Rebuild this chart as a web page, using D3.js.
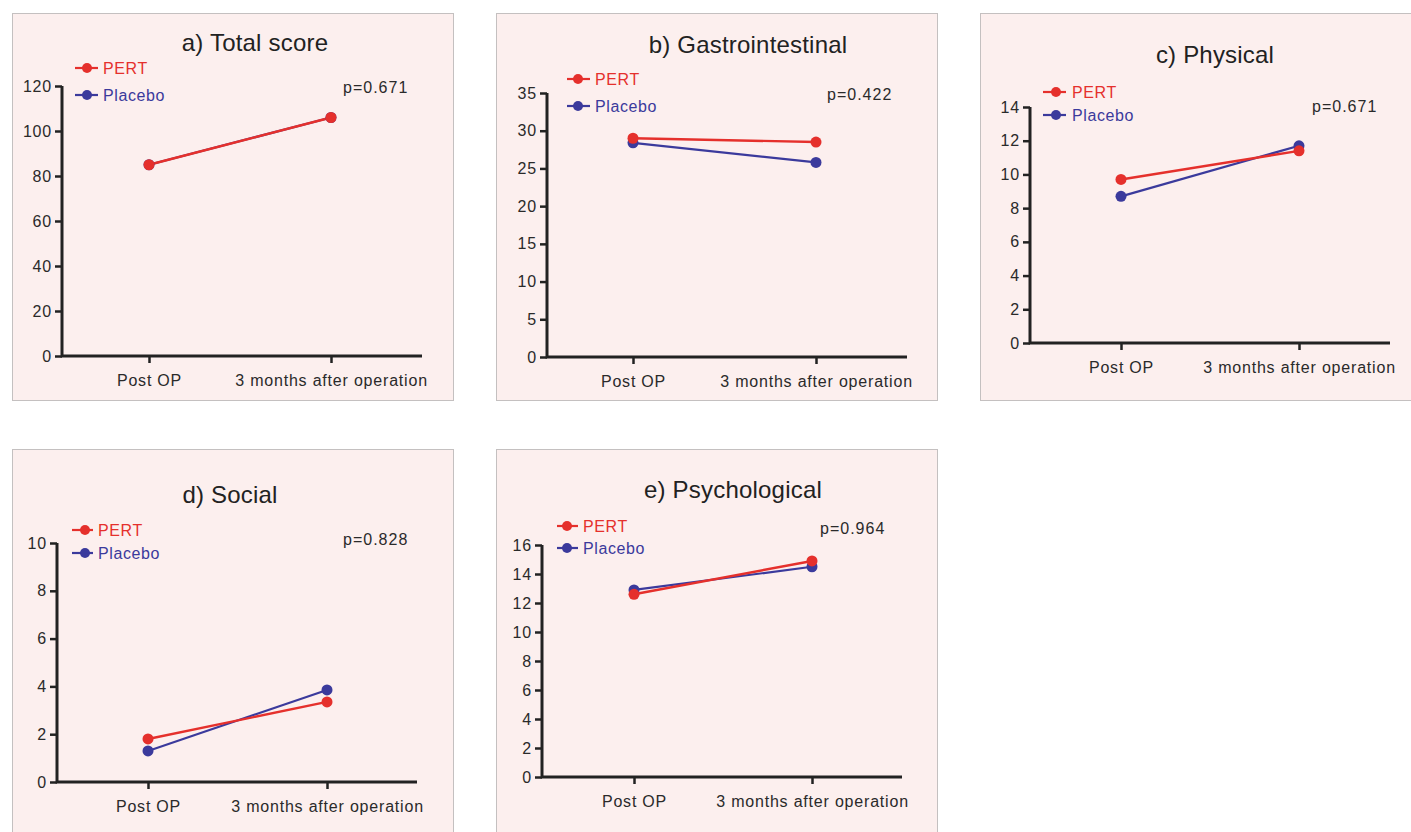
<!DOCTYPE html>
<html><head><meta charset="utf-8">
<script src="https://cdn.jsdelivr.net/npm/d3@7"></script>
<style>
html,body{margin:0;padding:0;background:#fff;}
svg{display:block;font-family:"Liberation Sans",Arial,Helvetica,sans-serif;}
</style></head>
<body>
<svg id="chart" width="1411" height="832"></svg>
<script>
// ---- data ----
const categories = ["Post OP", "3 months after operation"];
const seriesNames = ["PERT", "Placebo"];
const panelTitles = ["a) Total score", "b) Gastrointestinal", "c) Physical", "d) Social", "e) Psychological"];
const pValues = ["p=0.671", "p=0.422", "p=0.671", "p=0.828", "p=0.964"];
const pertValues = [[85, 106], [29.0, 28.5], [9.7, 11.4], [1.8, 3.35], [12.6, 14.9]];
const placeboValues = [[85, 106], [28.4, 25.8], [8.7, 11.7], [1.3, 3.85], [12.9, 14.5]];
const yMax = [120, 35, 14, 10, 16];
const yStep = [20, 5, 2, 2, 2];

// ---- layout (pixels) ----
const layout = [
  {bx:12, by:13, bw:441, bh:387, axX:62, y0:356, yTop:86, xEnd:422, x1:149, x2:331, tx:255, ty:51, lx1:75, lx2:98, lc:87, ltx:103, ly1:68, ly2:95, px:343, py:87},
  {bx:496, by:13, bw:441, bh:387, axX:547, y0:357, yTop:93, xEnd:907, x1:633, x2:816, tx:748, ty:53, lx1:567, lx2:590, lc:578, ltx:595, ly1:79, ly2:106, px:827, py:94},
  {bx:980, by:13, bw:440, bh:387, axX:1030, y0:343, yTop:107, xEnd:1390, x1:1121, x2:1299, tx:1215, ty:63, lx1:1043, lx2:1066, lc:1056, ltx:1072, ly1:92, ly2:115, px:1312, py:106},
  {bx:12, by:449, bw:441, bh:400, axX:57, y0:782, yTop:543, xEnd:417, x1:148, x2:327, tx:230, ty:503, lx1:72, lx2:93, lc:85, ltx:98, ly1:530, ly2:553, px:343, py:539},
  {bx:496, by:449, bw:441, bh:400, axX:542, y0:777, yTop:545, xEnd:902, x1:634, x2:812, tx:733, ty:498, lx1:557, lx2:578, lc:567, ltx:583, ly1:526, ly2:548, px:820, py:528}
];

const colors = {PERT: "#e5302c", Placebo: "#3b3a9c"};
const svg = d3.select("#chart");

panelTitles.forEach((title, i) => {
  const L = layout[i];
  const g = svg.append("g");
  g.append("rect").attr("x", L.bx + 0.5).attr("y", L.by + 0.5)
    .attr("width", L.bw).attr("height", L.bh)
    .attr("fill", "#fcefee").attr("stroke", "#c4c0c0").attr("stroke-width", 1);

  const y = d3.scaleLinear().domain([0, yMax[i]]).range([L.y0, L.yTop]);
  const x = d3.scalePoint().domain(categories).range([L.x1, L.x2]);

  // y axis
  const ticks = d3.range(0, yMax[i] + 0.001, yStep[i]);
  const ya = g.append("g").attr("transform", `translate(${L.axX},0)`)
    .call(d3.axisLeft(y).tickValues(ticks).tickSize(7).tickPadding(3).tickFormat(d3.format("d")));
  ya.select(".domain").remove();
  ya.selectAll(".tick line").attr("stroke", "#222").attr("stroke-width", 2.5);
  ya.selectAll(".tick text").attr("fill", "#2a2a2a").style("font-size", "16px").style("letter-spacing", "0.8px").attr("font-family", null);

  // x axis
  const xa = g.append("g").attr("transform", `translate(0,${L.y0})`)
    .call(d3.axisBottom(x).tickSize(7).tickPadding(12));
  xa.select(".domain").remove();
  xa.selectAll(".tick line").attr("stroke", "#222").attr("stroke-width", 2.5);
  xa.selectAll(".tick text").attr("fill", "#2a2a2a").style("font-size", "16px").style("letter-spacing", "0.8px").attr("font-family", null);

  // axis lines
  g.append("path").attr("d", `M${L.axX},${L.yTop}V${L.y0}H${L.xEnd}`)
    .attr("fill", "none").attr("stroke", "#222").attr("stroke-width", 3);

  // title
  g.append("text").attr("x", L.tx).attr("y", L.ty).attr("text-anchor", "middle")
    .attr("fill", "#222").style("font-size", "24px").style("letter-spacing", "0.2px").text(title);

  // p value
  g.append("text").attr("x", L.px).attr("y", L.py).attr("dy", "0.35em")
    .attr("fill", "#2a2a2a").style("font-size", "16px").style("letter-spacing", "1px").text(pValues[i]);

  // series
  const series = [
    {name: seriesNames[1], vals: placeboValues[i]},
    {name: seriesNames[0], vals: pertValues[i]}
  ];
  const line = d3.line().x((d, j) => x(categories[j])).y(d => y(d));
  series.forEach(s => {
    g.append("path").attr("d", line(s.vals)).attr("fill", "none")
      .attr("stroke", colors[s.name]).attr("stroke-width", s.name === "PERT" ? 2.4 : 2.2);
  });
  series.forEach(s => {
    g.selectAll(null).data(s.vals).enter().append("circle")
      .attr("cx", (d, j) => x(categories[j])).attr("cy", d => y(d)).attr("r", 5.5)
      .attr("fill", colors[s.name]);
  });

  // legend
  [[seriesNames[0], L.ly1], [seriesNames[1], L.ly2]].forEach(([name, ly]) => {
    g.append("line").attr("x1", L.lx1).attr("x2", L.lx2).attr("y1", ly).attr("y2", ly)
      .attr("stroke", colors[name]).attr("stroke-width", 2.2);
    g.append("circle").attr("cx", L.lc).attr("cy", ly).attr("r", 5).attr("fill", colors[name]);
    g.append("text").attr("x", L.ltx).attr("y", ly).attr("dy", "0.35em")
      .attr("fill", colors[name]).style("font-size", "16px").style("letter-spacing", "0.6px").text(name);
  });
});
</script>
</body></html>
